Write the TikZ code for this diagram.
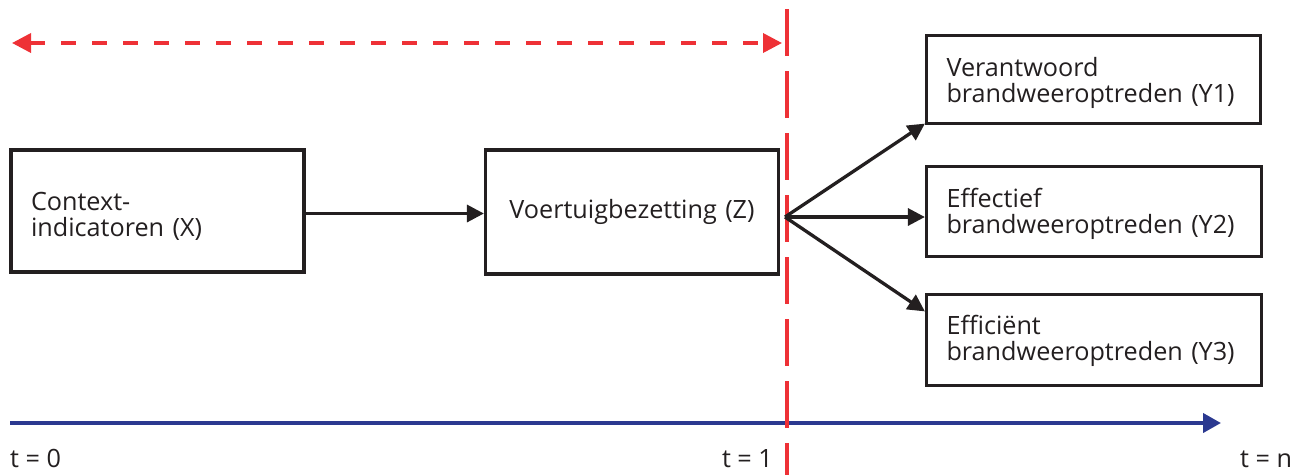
\documentclass[tikz,border=0pt]{standalone}
\usepackage{fontspec}
\setmainfont{Open Sans}
\usetikzlibrary{arrows.meta}
\definecolor{ired}{HTML}{EE3136}
\definecolor{iblue}{HTML}{2B3990}
\definecolor{iblack}{HTML}{231F20}
\begin{document}
\begin{tikzpicture}[x=1pt,y=-1pt,
  txt/.style={font=\fontsize{25.2}{26}\selectfont, text=iblack},
  box/.style={txt, draw=iblack, line width=3.2pt, inner xsep=20pt, inner ysep=0pt, align=left},
  conn/.style={draw=iblack, line width=3.3pt, -{Triangle[length=17pt,width=17pt]}},
  redl/.style={draw=ired, line width=3.2pt},
  lbl/.style={txt, inner sep=0pt, anchor=base west}]
\useasboundingbox (0,0) rectangle (1309,475);
% timeline
\coordinate (b0) at (10,423);
\coordinate (b1) at (1221,423);
\draw[draw=iblue, line width=4pt, -{Triangle[length=18pt,width=19pt]}] (b0) -- (b1);
% red vertical and horizontal
\coordinate (rt) at (787,9);
\coordinate (rb) at (787,475);
\draw[redl, dash pattern=on 47pt off 15pt] (rt) -- (rb);
\coordinate (hl) at (12,43);
\coordinate (hr) at (782,43);
\draw[redl, line width=3.6pt, dash pattern=on 15pt off 16pt,
  {Triangle[length=19pt,width=19pt]}-{Triangle[length=19pt,width=19pt]}] (hl) -- (hr);
% boxes
\node[box, minimum width=293pt, minimum height=122pt, text width=253pt] (X) at (157.5,211)
  {\rule{0pt}{29pt}Context-\\indicatoren (X)};
\node[box, minimum width=293pt, minimum height=124pt, text width=253pt, align=center] (Z) at (632,212)
  {Voertuigbezetting (Z)};
\node[box, minimum width=334pt, minimum height=88pt, text width=294pt] (Y1) at (1093.5,79.5)
  {\rule{0pt}{27pt}Verantwoord\\brandweeroptreden (Y1)};
\node[box, minimum width=335pt, minimum height=90pt, text width=295pt] (Y2) at (1094,211.5)
  {\rule{0pt}{25pt}Effectief\\brandweeroptreden (Y2)};
\node[box, minimum width=335pt, minimum height=91pt, text width=295pt] (Y3) at (1094,340)
  {\rule{0pt}{21pt}Effici\"ent\\brandweeroptreden (Y3)};
% connectors
\draw[conn] ([yshift=-2.5pt]X.east) -- ([yshift=-2.5pt]X.east -| Z.west);
\coordinate (F) at (785,217);
\draw[conn] (F) -- ([yshift=1.5pt]Y1.south west);
\draw[conn] (F) -- (F -| Y2.west);
\draw[conn] (F) -- ([yshift=-18.5pt]Y3.north west);
% time labels
\node[lbl] (t0) at (10,467) {t = 0};
\node[lbl, anchor=base east] (t1) at (773,467) {t = 1};
\node[lbl] (tn) at (1240,467) {t = n};
\end{tikzpicture}
\end{document}
